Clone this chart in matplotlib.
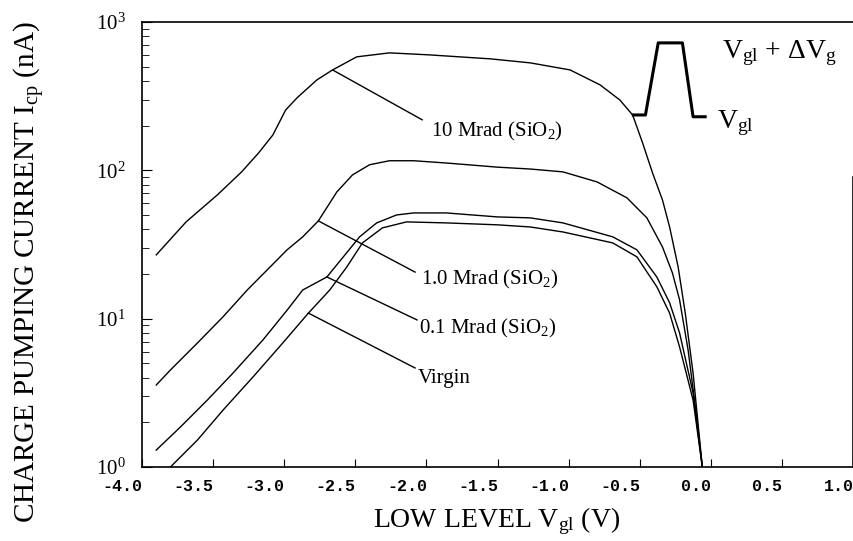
import numpy as np
import matplotlib
matplotlib.use("Agg")
import matplotlib.pyplot as plt
from matplotlib.transforms import ScaledTranslation

plt.rcParams['font.family'] = ['Liberation Serif', 'DejaVu Serif']
plt.rcParams['mathtext.fontset'] = 'custom'
plt.rcParams['mathtext.rm'] = 'Liberation Serif'
plt.rcParams['mathtext.it'] = 'Liberation Serif:italic'

# ---- data ----
x_10 = [-3.90, -3.69, -3.47, -3.30, -3.18, -3.08, -2.99, -2.91, -2.77, -2.66, -2.49,
        -2.26, -1.98, -1.55, -1.27, -0.99, -0.78, -0.64, -0.55, -0.48, -0.41, -0.34,
        -0.29, -0.23, -0.18, -0.125, -0.06]
y_10 = [26.9, 44.9, 68.3, 97.5, 131, 173, 255, 308, 407, 475, 582,
        619, 600, 564, 530, 475, 377, 298, 236, 153, 96, 63,
        41.5, 22.3, 10.9, 4.3, 1.0]

x_1 = [-3.90, -3.80, -3.61, -3.43, -3.26, -3.12, -2.98, -2.87, -2.76, -2.63, -2.52,
       -2.40, -2.26, -2.09, -1.86, -1.50, -1.27, -1.04, -0.80, -0.59, -0.45, -0.34,
       -0.27, -0.22, -0.16, -0.10, -0.06]
y_1 = [3.57, 4.51, 6.86, 10.3, 15.6, 21.3, 29.1, 35.6, 45.6, 71.5, 93.1,
       109, 116, 116, 112, 105, 102, 97.6, 83.5, 65.2, 47.8, 30.4,
       20.3, 13.4, 6.15, 2.17, 1.0]

x_01 = [-3.90, -3.73, -3.54, -3.36, -3.15, -2.98, -2.87, -2.70, -2.59, -2.47, -2.35,
        -2.21, -2.09, -1.86, -1.50, -1.27, -1.04, -0.69, -0.52, -0.38, -0.29, -0.22,
        -0.125, -0.06]
y_01 = [1.30, 1.86, 2.83, 4.30, 7.18, 11.4, 15.6, 19.1, 25.7, 35.6, 44.2,
        50.0, 51.6, 51.6, 48.5, 47.8, 44.2, 35.6, 29.1, 19.1, 12.8, 8.01,
        3.16, 1.0]

x_v = [-3.80, -3.61, -3.43, -3.22, -3.01, -2.83, -2.68, -2.56, -2.45, -2.31, -2.14,
       -1.86, -1.50, -1.27, -1.04, -0.69, -0.52, -0.38, -0.29, -0.22, -0.125, -0.06]
y_v = [1.0, 1.52, 2.42, 4.04, 6.86, 10.9, 15.6, 22.3, 32.4, 40.9, 44.9,
       44.2, 42.9, 41.5, 38.4, 32.4, 26.1, 16.4, 10.9, 6.45, 2.83, 1.0]

labels = ["10 Mrad (SiO$_2$)", "1.0 Mrad (SiO$_2$)", "0.1 Mrad (SiO$_2$)", "Virgin"]
# leader line: point on curve -> end of line ; text anchor (left, baseline)
label_at = [(-2.66, 475), (-2.76, 45.6), (-2.70, 19.1), (-2.83, 10.9)]
line_end = [(-2.03, 219), (-2.08, 20.6), (-2.066, 9.8), (-2.08, 4.65)]
label_text = [(-1.97, 170), (-2.04, 16.9), (-2.05, 8.0), (-2.06, 3.69)]

xticks = np.arange(-4.0, 1.01, 0.5)

# pulse sketch (axes fraction)
pulse_x = [0.691, 0.708, 0.726, 0.760, 0.775, 0.792]
pulse_y = [0.791, 0.791, 0.953, 0.953, 0.787, 0.787]

# ---- plot ----
fig = plt.figure(figsize=(8.54, 5.41), dpi=100)
ax = fig.add_axes([0.1663, 0.1368, 0.8326, 0.8226])

for xs, ys in [(x_10, y_10), (x_1, y_1), (x_01, y_01), (x_v, y_v)]:
    ax.plot(xs, ys, color="black", lw=1.0)

for lab, p, e, t in zip(labels, label_at, line_end, label_text):
    ax.plot([p[0], e[0]], [p[1], e[1]], color="black", lw=1.0)
    ax.text(t[0], t[1], lab, ha="left", va="baseline", fontsize=15)

ax.plot(pulse_x, pulse_y, color="black", lw=2.2, transform=ax.transAxes, clip_on=False)
ax.text(0.815, 0.919, r"V$_{\mathregular{gl}}$ + $\Delta$V$_{\mathregular{g}}$",
        transform=ax.transAxes, fontsize=20, ha="left", va="baseline")
ax.text(0.809, 0.762, r"V$_{\mathregular{gl}}$", transform=ax.transAxes,
        fontsize=20, ha="left", va="baseline")

ax.set_yscale("log")
ax.set_xlim(-4.0, 1.0)
ax.set_ylim(1, 1000)
ax.set_xticks(xticks)
ax.set_xticklabels([f"{v:.1f}" for v in xticks],
                   family="Liberation Mono", fontsize=12, weight="bold")
ax.set_yticks([1, 10, 100, 1000])
ax.set_yticklabels([r"$\mathregular{10^{%d}}$" % i for i in range(4)], fontsize=15)
ax.tick_params(axis="both", which="both", direction="in")
ax.tick_params(axis="x", length=6, pad=9)
ax.tick_params(axis="y", which="major", length=7, pad=12)
ax.tick_params(axis="y", which="minor", length=5)
ax.tick_params(top=False, right=False, which="both")
ax.spines["right"].set_bounds(1, 90)
for s in ax.spines.values():
    s.set_linewidth(1.2)

# tick labels sit right-aligned at the tick in the original
shift = ScaledTranslation(0.5 / 100, 0, fig.dpi_scale_trans)
for lbl in ax.get_xticklabels():
    lbl.set_horizontalalignment("right")
    lbl.set_transform(lbl.get_transform() + shift)

ax.set_xlabel(r"LOW LEVEL V$_{\mathregular{gl}}$ (V)", fontsize=20)
ax.xaxis.set_label_coords(0.499, -0.085)
ax.set_ylabel(r"CHARGE PUMPING CURRENT I$_{\mathregular{cp}}$ (nA)", fontsize=21)
ax.yaxis.set_label_coords(-0.134, 0.438)

plt.savefig("out.png", dpi=100)
